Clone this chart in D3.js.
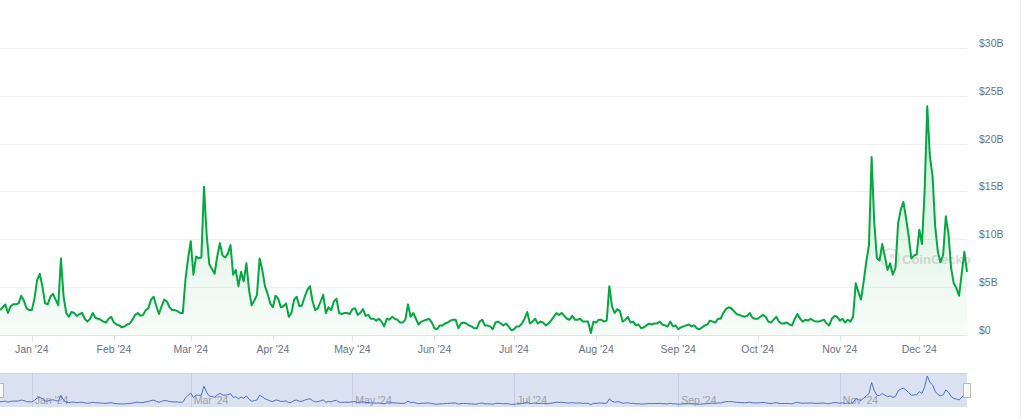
<!DOCTYPE html>
<html><head><meta charset="utf-8">
<script src="https://cdn.jsdelivr.net/npm/d3@7"></script>
<style>
html,body{margin:0;padding:0;background:#fff;}
svg{display:block;font-family:"Liberation Sans",Arial,sans-serif;}
</style></head>
<body>
<svg id="chart" width="1024" height="419"></svg>
<script>
// Daily trading volume (billions USD), starting 2023-12-20
const startDate = "2023-12-20";
const volumeB = [
 2.6,2.9,3.2,2.3,3.0,3.2,3.2,3.3,4.1,3.6,2.8,2.6,2.6,3.8,5.7,6.4,5.1,3.3,3.2,4.0,
 4.3,3.7,3.1,8.0,4.0,2.3,1.9,2.4,2.3,2.0,2.2,2.3,1.7,1.4,1.7,2.3,1.8,1.7,1.6,1.4,
 1.3,1.7,1.9,1.3,1.1,1.0,0.8,0.9,1.1,1.2,1.6,2.1,2.3,2.0,2.1,2.6,2.8,3.7,4.0,3.0,
 2.2,3.0,3.7,3.5,2.9,2.6,2.6,2.5,2.3,2.3,5.8,8.0,9.8,6.3,8.2,8.0,8.1,15.5,10.5,7.4,
 6.9,6.4,8.2,9.6,8.3,8.1,8.5,9.4,6.3,6.8,5.1,6.6,5.6,7.5,4.7,3.1,3.6,4.2,8.0,6.8,
 5.1,4.3,3.3,2.9,4.1,3.8,2.9,3.0,3.3,1.9,2.3,3.7,4.0,3.0,3.1,4.0,4.7,5.1,3.5,2.6,
 2.8,3.5,4.2,2.3,2.9,2.6,3.5,3.8,2.3,2.2,2.3,2.3,2.2,2.7,2.8,2.1,2.3,2.7,2.0,2.1,
 1.7,1.7,1.5,1.7,1.4,0.9,1.7,1.6,1.9,1.7,1.6,1.3,1.3,1.6,3.2,1.9,2.3,1.7,1.1,1.4,
 1.5,1.6,1.7,1.3,0.7,0.6,1.0,1.0,1.2,1.3,1.5,1.6,1.6,0.7,1.2,1.3,1.2,1.0,0.9,0.7,
 0.7,1.4,1.6,1.0,1.0,0.9,0.6,1.3,1.4,1.2,1.0,1.2,0.9,0.5,0.6,0.9,0.9,1.2,1.7,2.4,
 1.2,1.4,1.7,1.2,1.4,1.3,1.0,1.2,1.5,1.9,2.3,2.1,2.3,2.0,1.7,1.6,2.0,1.6,1.6,1.7,
 1.4,1.4,1.4,0.2,1.4,1.3,1.6,1.6,1.4,1.5,5.1,3.0,2.3,2.7,2.5,1.4,1.6,1.9,1.3,1.4,
 1.0,1.1,0.7,0.8,1.0,1.2,1.1,1.2,1.2,1.4,1.1,1.0,0.9,1.4,0.9,1.0,0.6,0.8,0.9,1.0,
 1.1,0.9,1.0,0.7,0.6,0.8,1.0,1.1,1.5,1.4,1.3,1.7,1.7,2.3,2.7,2.9,2.8,2.5,2.2,2.1,
 2.0,1.9,2.0,2.3,1.8,1.7,1.7,1.9,2.1,1.9,1.4,1.3,1.6,1.9,1.4,1.2,1.2,1.3,1.1,1.0,
 1.7,2.2,1.7,1.4,1.6,1.5,1.7,1.5,1.4,1.4,1.5,1.6,1.2,1.0,1.7,2.0,1.9,1.5,1.7,1.3,
 1.6,1.4,1.9,5.4,4.5,3.7,5.6,7.7,9.4,18.6,11.7,8.0,7.8,9.5,8.2,6.8,7.5,6.3,7.0,11.7,
 13.1,13.9,12.2,10.3,8.0,8.3,8.4,11.0,9.5,15.0,23.9,18.6,16.6,11.3,8.7,7.6,8.4,12.4,10.6,7.0,
 5.4,4.9,4.1,6.4,8.7,6.6
];
const yTickValues = [0,5,10,15,20,25,30];
const yTickLabels = ["$0","$5B","$10B","$15B","$20B","$25B","$30B"];
const monthTicks = ["2024-01-01","2024-02-01","2024-03-01","2024-04-01","2024-05-01","2024-06-01",
  "2024-07-01","2024-08-01","2024-09-01","2024-10-01","2024-11-01","2024-12-01"];
const monthLabels = ["Jan '24","Feb '24","Mar '24","Apr '24","May '24","Jun '24",
  "Jul '24","Aug '24","Sep '24","Oct '24","Nov '24","Dec '24"];
const navTicks = ["2024-01-01","2024-03-01","2024-05-01","2024-07-01","2024-09-01","2024-11-01"];
const navLabels = ["Jan '24","Mar '24","May '24","Jul '24","Sep '24","Nov '24"];

const parse = d3.utcParse("%Y-%m-%d");
const t0 = parse(startDate);
const data = volumeB.map((v,i)=>({date:d3.utcDay.offset(t0,i), v}));

const svg = d3.select("#chart");
const plotL = 0, plotR = 967, plotT = 0, plotB = 335;
const x = d3.scaleUtc().domain(d3.extent(data,d=>d.date)).range([plotL,plotR]);
const y = d3.scaleLinear().domain([0,35]).range([plotB,plotT]);

const defs = svg.append("defs");
const grad = defs.append("linearGradient").attr("id","areaGrad")
  .attr("gradientUnits","userSpaceOnUse").attr("x1",0).attr("x2",0)
  .attr("y1",y(24)).attr("y2",plotB);
grad.append("stop").attr("offset","0").attr("stop-color","#00a83e").attr("stop-opacity",0.2);
grad.append("stop").attr("offset","1").attr("stop-color","#00a83e").attr("stop-opacity",0.03);

// gridlines
svg.append("g").selectAll("line").data(yTickValues).join("line")
  .attr("x1",plotL).attr("x2",plotR)
  .attr("y1",d=>Math.round(y(d))+0.5).attr("y2",d=>Math.round(y(d))+0.5)
  .attr("stroke",d=>d===0?"#e1e4ea":"#eef0f3").attr("stroke-width",1);

// y labels
svg.append("g").selectAll("text").data(yTickValues).join("text")
  .attr("x",979).attr("y",d=>y(d)-5)
  .attr("dominant-baseline","central")
  .attr("font-size","10.5px").attr("fill","#687389")
  .text((d,i)=>yTickLabels[i]);

// area and line
svg.append("path").datum(data)
  .attr("d",d3.area().x(d=>x(d.date)).y0(plotB).y1(d=>y(d.v)))
  .attr("fill","url(#areaGrad)");

// watermark
const wm = svg.append("g").attr("opacity",0.5);
wm.append("circle").attr("cx",890).attr("cy",258).attr("r",9).attr("fill","none")
  .attr("stroke","#c8c8c8").attr("stroke-width",2);
wm.append("circle").attr("cx",892).attr("cy",256).attr("r",2.5).attr("fill","#c8c8c8");
wm.append("text").attr("x",902).attr("y",259).attr("dominant-baseline","central")
  .attr("font-size","13px").attr("font-weight","bold").attr("fill","#b4b4b4").text("CoinGecko");

svg.append("path").datum(data)
  .attr("d",d3.line().x(d=>x(d.date)).y(d=>y(d.v)))
  .attr("fill","none").attr("stroke","#05a840").attr("stroke-width",2)
  .attr("stroke-linejoin","round");

// x axis ticks and labels
const mt = monthTicks.map(parse);
svg.append("g").selectAll("line").data(mt).join("line")
  .attr("x1",d=>Math.round(x(d))+0.5).attr("x2",d=>Math.round(x(d))+0.5)
  .attr("y1",plotB).attr("y2",plotB+6).attr("stroke","#e1e4ea");
svg.append("g").selectAll("text").data(mt).join("text")
  .attr("x",d=>x(d)).attr("y",349).attr("text-anchor","middle")
  .attr("dominant-baseline","central")
  .attr("font-size","10.5px").attr("fill","#687389")
  .text((d,i)=>monthLabels[i]);

// navigator
const navT = 373, navB = 407;
svg.append("rect").attr("x",plotL).attr("y",navT).attr("width",plotR-plotL).attr("height",navB-navT)
  .attr("fill","#dae1f0");
svg.append("line").attr("x1",plotL).attr("x2",plotR).attr("y1",navT+0.5).attr("y2",navT+0.5)
  .attr("stroke","#cdd5e6");
const nt = navTicks.map(parse);
svg.append("g").selectAll("line").data(nt).join("line")
  .attr("x1",d=>Math.round(x(d))+0.5).attr("x2",d=>Math.round(x(d))+0.5)
  .attr("y1",navT).attr("y2",navB).attr("stroke","#c6cedf");
svg.append("g").selectAll("text").data(nt).join("text")
  .attr("x",d=>x(d)+3).attr("y",400).attr("dominant-baseline","central")
  .attr("font-size","10.5px").attr("fill","#9aa0aa")
  .text((d,i)=>navLabels[i]);
const yn = d3.scaleLinear().domain([0,d3.max(volumeB)]).range([405,376]);
svg.append("path").datum(data)
  .attr("d",d3.line().x(d=>x(d.date)).y(d=>yn(d.v)))
  .attr("fill","none").attr("stroke","#4f6fc4").attr("stroke-width",1);
// handles
[plotL, plotR].forEach(hx=>{
  svg.append("rect").attr("x",hx-3.5).attr("y",383.5).attr("width",7).attr("height",14)
    .attr("fill","#f8f8f8").attr("stroke","#b8b8b8");
});
// right border
svg.append("line").attr("x1",1020.5).attr("x2",1020.5).attr("y1",0).attr("y2",419)
  .attr("stroke","#ececec");
</script>
</body></html>
